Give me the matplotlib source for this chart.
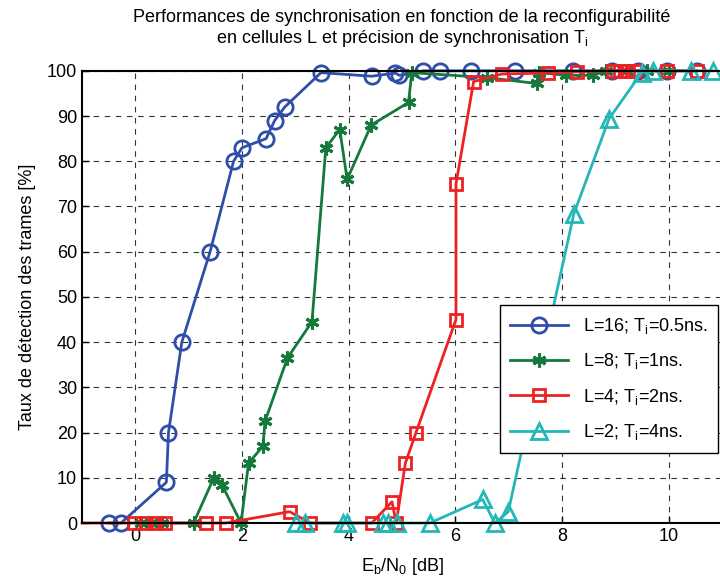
import matplotlib.pyplot as plt
import numpy as np

plt.rcParams['font.family'] = ['Liberation Sans', 'DejaVu Sans']
plt.rcParams['mathtext.fontset'] = 'custom'
plt.rcParams['mathtext.rm'] = 'Liberation Sans'

# L=16; Ti=0.5ns
x_l16 = [-0.5, -0.27, 0.58, 0.62, 0.87, 1.40, 1.84, 2.0, 2.45, 2.61, 2.8, 3.48,
         4.43, 4.87, 4.95, 5.4, 5.71, 6.30, 7.12, 8.2, 8.93, 9.43, 9.96, 10.52]
y_l16 = [0, 0, 9, 20, 40, 60, 80, 83, 85, 89, 92, 99.6,
         98.8, 99.5, 99, 100, 100, 100, 100, 100, 100, 100, 100, 100]

# L=8; Ti=1ns
x_l8 = [0.1, 0.3, 0.5, 1.09, 1.47, 1.62, 1.98, 2.12, 2.39, 2.43, 2.85, 3.31, 3.57,
        3.83, 3.97, 4.42, 5.12, 5.18, 6.59, 7.52, 7.57, 8.08, 8.58, 8.82, 9.2, 9.6, 10.0]
y_l8 = [0, 0, 0, 0, 10, 8.5, 0, 13.2, 17, 22.5, 36.5, 44.5, 83,
        87, 76, 88, 93, 99.6, 98.5, 97.2, 99.6, 99, 99, 100, 100, 100, 100]

# L=4; Ti=2ns (first point sits on the left border, no marker there)
x_l4 = [-1.0, -0.03, 0.19, 0.37, 0.56, 1.33, 1.69, 2.89, 3.28, 4.43, 4.81, 4.89,
        5.06, 5.26, 6.01, 6.01, 6.34, 6.87, 7.74, 8.27, 8.96, 9.08, 9.24, 9.36, 9.96, 10.52]
y_l4 = [0, 0, 0, 0, 0, 0, 0, 2.5, 0, 0, 4.7, 0,
        13.2, 20, 45, 75, 97.6, 99.3, 99.5, 99.8, 100, 100, 100, 100, 100, 100]

# L=2; Ti=4ns
x_l2 = [3.01, 3.18, 3.9, 3.96, 4.65, 4.74, 4.9, 5.52, 6.51, 6.74, 6.99,
        8.22, 8.88, 9.49, 9.71, 10.42, 10.83]
y_l2 = [0, 0, 0, 0, 0, 0, 0, 0, 5.2, 0, 2.5,
        68.4, 89.4, 99.6, 100, 100, 100]

fig = plt.figure(figsize=(7.2, 5.79), dpi=100)
ax = fig.add_axes([0.114, 0.0967, 0.889, 0.781])

ax.plot(x_l16, y_l16, color='#2f4ea8', lw=2, marker='o', ms=11, mfc='none', mew=2,
        clip_on=False, label='L=16; T$_\\mathregular{i}$=0.5ns.')
ax.plot(x_l8, y_l8, color='#14793b', lw=2, marker=(6, 2, 0), ms=10, mew=2.2,
        clip_on=False, label='L=8; T$_\\mathregular{i}$=1ns.')
ax.plot(x_l4, y_l4, color='#ee2224', lw=2, marker='s', ms=9, mfc='none', mew=2,
        markevery=list(range(1, len(x_l4))), clip_on=False,
        label='L=4; T$_\\mathregular{i}$=2ns.')
ax.plot(x_l2, y_l2, color='#25b7b7', lw=2, marker='^', ms=12, mfc='none', mew=2,
        clip_on=False, label='L=2; T$_\\mathregular{i}$=4ns.')

ax.set_xlim(-1, 11)
ax.set_ylim(0, 100)
ax.set_xticks([0, 2, 4, 6, 8, 10])
ax.set_yticks(np.arange(0, 101, 10))
ax.tick_params(direction='in', labelsize=13, length=5, width=1)
ax.grid(True, color='black', linestyle=(0, (5, 5)), linewidth=0.8, alpha=0.8)
for s in ax.spines.values():
    s.set_linewidth(1.5)

ax.set_title('Performances de synchronisation en fonction de la reconfigurabilité\n'
             'en cellules L et précision de synchronisation T$_\\mathregular{i}$',
             fontsize=13, linespacing=1.15, pad=20)
ax.set_xlabel('E$_\\mathregular{b}$/N$_\\mathregular{0}$ [dB]', fontsize=13, labelpad=8)
ax.set_ylabel('Taux de détection des trames [%]', fontsize=13, labelpad=8)

leg = ax.legend(loc='upper right', bbox_to_anchor=(0.994, 0.482), borderaxespad=0,
                fontsize=13, fancybox=False, edgecolor='black', framealpha=1,
                handlelength=3.2, labelspacing=0.85, borderpad=0.6)
leg.get_frame().set_linewidth(1)

fig.savefig('out.png', dpi=100)
